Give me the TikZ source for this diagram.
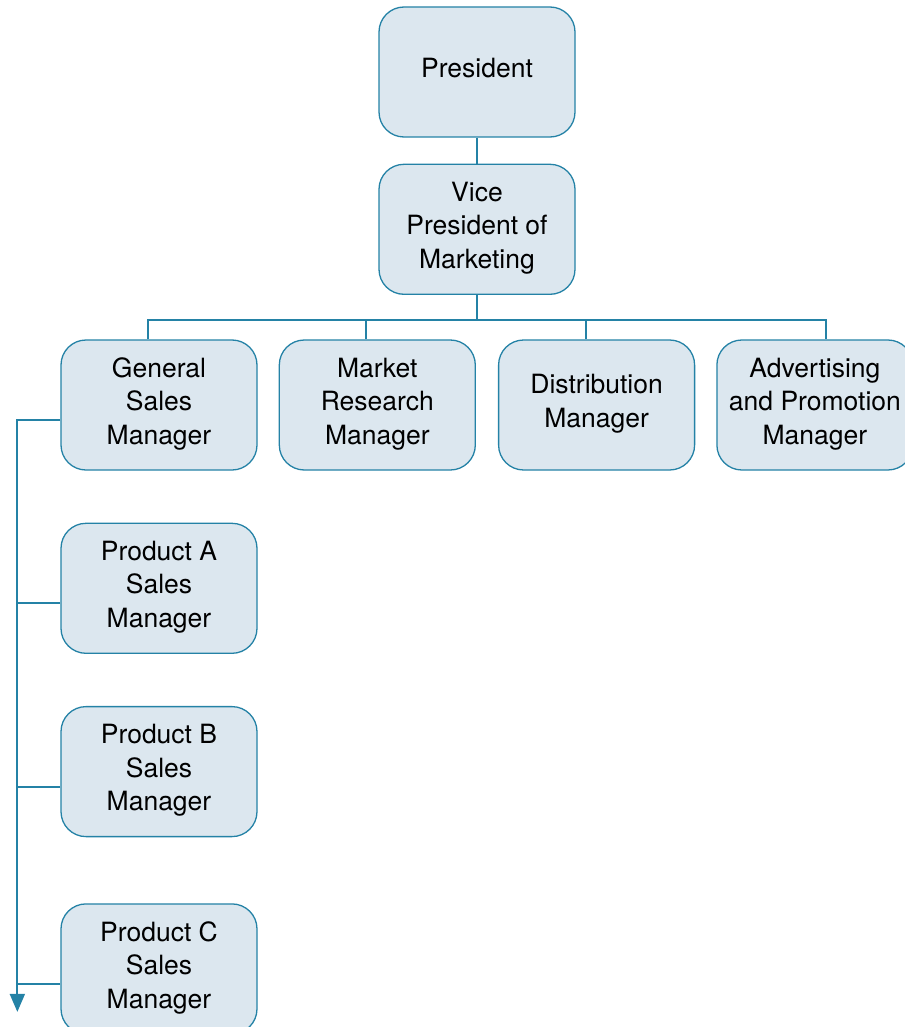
\documentclass[tikz,border=0pt]{standalone}
\usepackage{fontspec}
\setmainfont{TeX Gyre Heros}
\usetikzlibrary{arrows.meta,positioning}
\definecolor{boxfill}{RGB}{220,231,239}
\definecolor{boxline}{RGB}{36,130,166}
\tikzset{
  box/.style={draw=boxline, fill=boxfill, line width=1.3pt, rounded corners=25pt,
              align=center, font=\fontsize{26.5}{33.5}\selectfont, text depth=8pt,
              minimum width=196pt, minimum height=130pt, inner sep=0pt},
  link/.style={draw=boxline, line width=1.8pt}
}
\begin{document}
\begin{tikzpicture}[node distance=26pt and 21pt]
    \useasboundingbox (0pt,0pt) rectangle (904pt,-1027pt);
    \node[box] (pres) at (477pt,-72pt) {President};
    \node[box, below=of pres] (vp) {Vice\\President of\\Marketing};
    \node[box] (gsm) at (159pt,-405pt) {General\\Sales\\Manager};
    \node[box, right=of gsm] (mrm) {Market\\Research\\Manager};
    \node[box, right=22pt of mrm] (dm) {Distribution\\Manager};
    \node[box, right=of dm] (apm) {Advertising\\and Promotion\\Manager};
    \node[box, below=52pt of gsm] (pa) {Product A\\Sales\\Manager};
    \node[box, below=52pt of pa] (pb) {Product B\\Sales\\Manager};
    \node[box, below=66pt of pb] (pc) {Product C\\Sales\\Manager};
    % top of the tree
    \draw[link] (pres) -- (vp);
    \coordinate[below=25pt of vp.south] (bus);
    \draw[link] (vp) -- (bus);
    \coordinate (gsm-top) at ([xshift=-11pt]gsm.north);
    \coordinate (apm-top) at ([xshift=11pt]apm.north);
    \draw[link] (gsm-top) |- (bus) -| (apm-top);
    \foreach \n in {mrm,dm} {
      \coordinate (\n-top) at ([xshift=-11pt]\n.north);
      \draw[link] (\n-top) -- (\n-top |- bus);
    }
    % sales managers on the left
    \coordinate[below=15pt of gsm.west] (gsm-out);
    \coordinate[left=43pt of gsm-out] (spine);
    \coordinate[below=43pt of pc.west] (pc-low);
    \draw[link, -{Triangle[length=18pt,width=15pt]}] (gsm-out) -| (spine |- pc-low);
    \foreach \n in {pa,pb,pc} {
      \coordinate[below=15pt of \n.west] (\n-in);
      \draw[link] (\n-in) -- (\n-in -| spine);
    }
\end{tikzpicture}
\end{document}
